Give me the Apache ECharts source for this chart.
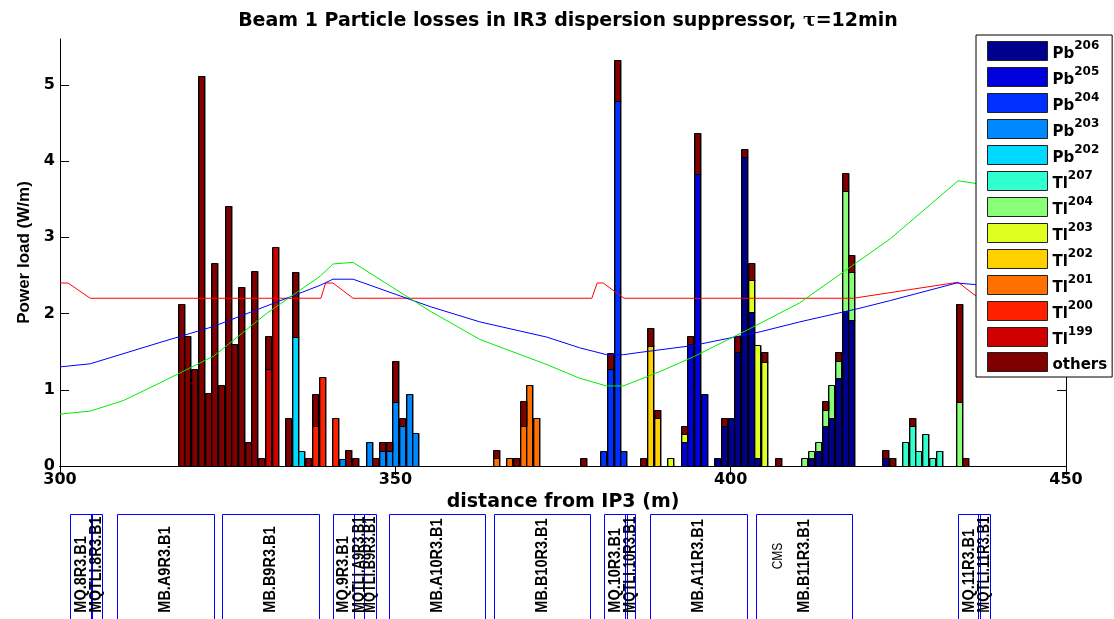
<!DOCTYPE html>
<html>
<head>
<meta charset="utf-8">
<title>Beam 1 Particle losses in IR3 dispersion suppressor</title>
<script src="https://cdn.jsdelivr.net/npm/echarts@6/dist/echarts.min.js"></script>
<style>
  html, body { margin: 0; padding: 0; background: #fff; }
  #chart { width: 1114px; height: 619px; }
</style>
</head>
<body>
<div id="chart"></div>
<script>
// ---- power load per 1 m bin, [bin centre (m from IP3), W/m], one list per species ----
const Pb206 = [[398,0.10],[399,0.52],[400,0.63],[401,1.49],[402,4.05],[403,2.02],[404,0.10],[412,0.10],[413,0.20],[414,0.52],[415,0.63],[416,1.16],[417,2.03],[418,1.91],[423,0.10]];
const Pb205 = [[393,0.31],[394,1.60],[395,3.83],[396,0.95]];
const Pb204 = [[381,0.20],[382,1.27],[383,4.79],[384,0.20]];
const Pb203 = [[342,0.09],[346,0.31],[348,0.20],[349,0.20],[350,0.84],[351,0.52],[352,0.95],[353,0.43]];
const Pb202 = [[335,1.69],[336,0.20]];
const Tl207 = [[426,0.31],[427,0.52],[428,0.20],[429,0.42],[430,0.10],[431,0.20]];
const Tl204 = [[411,0.10],[412,0.10],[413,0.11],[414,0.21],[415,0.43],[416,0.22],[417,1.58],[418,0.64],[434,0.84]];
const Tl203 = [[391,0.10],[393,0.11],[403,0.42],[404,1.49],[405,1.37]];
const Tl202 = [[388,1.58],[389,0.63]];
const Tl201 = [[365,0.10],[367,0.10],[369,0.52],[370,1.06],[371,0.63]];
const Tl200 = [[338,0.52],[339,1.17],[341,0.63]];
const Tl199 = [[331,1.27],[332,2.87]];
const others = [[318,2.13],[319,1.71],[320,1.27],[321,5.12],[322,0.96],[323,2.66],[324,1.06],[325,3.41],[326,1.60],[327,2.35],[328,0.31],[329,2.56],[330,0.10],[331,0.44],[334,0.63],[335,0.86],[337,0.10],[338,0.43],[343,0.21],[344,0.10],[347,0.10],[348,0.11],[349,0.11],[350,0.54],[351,0.11],[365,0.11],[368,0.10],[369,0.33],[378,0.10],[382,0.21],[383,0.54],[387,0.10],[388,0.23],[389,0.11],[393,0.10],[394,0.10],[395,0.54],[399,0.11],[401,0.21],[402,0.11],[403,0.22],[405,0.12],[407,0.10],[414,0.12],[416,0.11],[417,0.23],[418,0.22],[423,0.11],[424,0.10],[427,0.11],[434,1.29],[435,0.10]];

// stacking order, bottom to top (also the legend order)
const speciesKeys    = ['Pb206','Pb205','Pb204','Pb203','Pb202','Tl207','Tl204','Tl203','Tl202','Tl201','Tl200','Tl199','others'];
const speciesData    = [Pb206, Pb205, Pb204, Pb203, Pb202, Tl207, Tl204, Tl203, Tl202, Tl201, Tl200, Tl199, others];
const elementSymbols = ['Pb','Pb','Pb','Pb','Pb','Tl','Tl','Tl','Tl','Tl','Tl','Tl','others'];
const massNumbers    = ['206','205','204','203','202','207','204','203','202','201','200','199',''];
const speciesColors  = ['#00008f','#0000df','#0030ff','#0088ff','#00d8ff','#30ffcf','#88ff77','#dfff20','#ffcf00','#ff7000','#ff2000','#cf0000','#800000'];

// ---- overlay curves, [s (m), value on the W/m scale] ----
const redCurve   = [[300,2.40],[301.2,2.40],[304.5,2.20],[338.9,2.20],[339.6,2.40],[340.7,2.40],[343.7,2.20],[379.3,2.20],[380.1,2.40],[381.0,2.40],[384.1,2.20],[418.3,2.20],[433.9,2.41],[437.0,2.20],[450,2.20]];
const blueCurve  = [[300,1.30],[304.5,1.34],[314.9,1.62],[322.9,1.83],[338.8,2.37],[340.7,2.45],[343.7,2.45],[355.2,2.09],[362.6,1.89],[372.6,1.69],[377.5,1.55],[381.5,1.46],[384.0,1.46],[386.5,1.49],[394.4,1.58],[404.4,1.76],[410.3,1.89],[419.3,2.07],[423.8,2.17],[433.7,2.40],[436.4,2.38],[450,2.05]];
const greenCurve = [[300,0.68],[304.5,0.72],[309.5,0.86],[314.9,1.09],[322.9,1.44],[330.8,2.00],[338.8,2.49],[340.7,2.65],[343.7,2.67],[355.2,2.03],[362.6,1.66],[372.6,1.33],[377.5,1.15],[381.5,1.05],[384.0,1.05],[389.5,1.24],[394.4,1.43],[402.4,1.78],[410.3,2.14],[423.8,2.98],[433.9,3.74],[437.0,3.70],[450,2.90]];

// ---- magnet layout along s (m) ----
const magnetNames = ['MQ.8R3.B1','MQTLI.8R3.B1','MB.A9R3.B1','MB.B9R3.B1','MQ.9R3.B1','MQTLI.A9R3.B1','MQTLI.B9R3.B1','MB.A10R3.B1','MB.B10R3.B1','MQ.10R3.B1','MQTLI.10R3.B1','MB.A11R3.B1','MB.B11R3.B1','MQ.11R3.B1','MQTLI.11R3.B1'];
const magnetStart = [301.55,304.68,308.56,324.14,340.67,343.82,345.32,348.99,364.69,381.11,384.24,387.97,403.77,433.93,436.87];
const magnetEnd   = [304.79,306.25,322.89,338.59,343.82,345.32,347.16,363.38,379.08,384.49,385.73,402.39,418.04,437.17,438.66];
const noteLabels  = ['CMS'];
const notePos     = [407.05];

// ---- axis ticks ----
const xTicks = [300, 350, 400, 450];
const yTicks = [0, 1, 2, 3, 4, 5];

const WIDE = 'DejaVu Sans';
const ARIAL = 'Liberation Sans, Arial, sans-serif';
const BIN_FILL = 0.9;        // fraction of the 1 m bin covered by a bar
const MAGNET_FONT = 14.5;
const MAGNET_LABEL_MAX = 96; // longest a rotated name may run inside its strip (px)

// stack the species bin by bin: each segment is [centre, bottom, top]
const runningTop = new Map();
const stackedSegments = speciesData.map(list => list.map(([x, v]) => {
  const lo = runningTop.get(x) || 0;
  runningTop.set(x, lo + v);
  return [x, lo, lo + v];
}));

// squeeze long element names so they stay inside the strip
const measureCtx = document.createElement('canvas').getContext('2d');
measureCtx.font = 'bold ' + MAGNET_FONT + 'px ' + ARIAL;
const magnetSqueeze = magnetNames.map(n => Math.min(1, MAGNET_LABEL_MAX / measureCtx.measureText(n).width));

const barSeries = stackedSegments.map((segs, i) => ({
  name: speciesKeys[i],
  type: 'custom',
  xAxisIndex: 0,
  yAxisIndex: 0,
  silent: true,
  itemStyle: { color: speciesColors[i] },
  encode: { x: 0, y: [1, 2] },
  data: segs,
  renderItem: (params, api) => {
    const x = api.value(0);
    const top = api.coord([x, api.value(2)]);
    const bottom = api.coord([x, api.value(1)]);
    const w = Math.round(api.size([BIN_FILL, 0])[0]);
    const left = Math.round(top[0] - w / 2) + 0.5;
    const y0 = Math.round(top[1]) + 0.5;
    const y1 = Math.round(bottom[1]) + 0.5;
    return {
      type: 'rect',
      shape: { x: left, y: y0, width: w, height: y1 - y0 },
      style: { fill: speciesColors[i], stroke: '#000', lineWidth: 1,
               shadowColor: 'rgba(0,0,0,0.35)', shadowOffsetX: 1, shadowOffsetY: 0, shadowBlur: 0 }
    };
  }
}));

const curveSeries = [[redCurve, '#ff0000'], [blueCurve, '#0000ff'], [greenCurve, '#00ee00']].map(([pts, col]) => ({
  type: 'line',
  xAxisIndex: 0,
  yAxisIndex: 0,
  data: pts,
  symbol: 'none',
  silent: true,
  z: 3,
  lineStyle: { color: col, width: 1 },
  emphasis: { disabled: true }
}));

const LABEL_FOOT = 0.06; // rotated names start this far up the element strip

const magnetSeries = {
  type: 'custom',
  xAxisIndex: 1,
  yAxisIndex: 2,
  silent: true,
  clip: false,
  data: magnetNames.map((n, i) => [magnetStart[i], magnetEnd[i], i]),
  renderItem: (params, api) => {
    const i = api.value(2);
    const a = api.coord([api.value(0), 1]);
    const b = api.coord([api.value(1), -0.3]);
    const foot = api.coord([api.value(0), LABEL_FOOT]);
    const x0 = Math.round(a[0]) + 0.5, x1 = Math.round(b[0]) + 0.5, y0 = Math.round(a[1]) + 0.5;
    return {
      type: 'group',
      children: [
        { type: 'rect', shape: { x: x0, y: y0, width: x1 - x0, height: b[1] - y0 },
          style: { fill: 'none', stroke: '#0000ff', lineWidth: 1 } },
        { type: 'text', x: (a[0] + b[0]) / 2, y: foot[1], rotation: Math.PI / 2,
          scaleX: magnetSqueeze[i], scaleY: 1.18,
          style: { text: magnetNames[i], fontFamily: ARIAL, fontWeight: 'bold', fontSize: MAGNET_FONT,
                   fill: '#000', align: 'left', verticalAlign: 'middle' } }
      ]
    };
  }
};

const noteSeries = {
  type: 'custom',
  xAxisIndex: 1,
  yAxisIndex: 2,
  silent: true,
  clip: false,
  data: notePos.map((p, i) => [p, i]),
  renderItem: (params, api) => {
    const p = api.coord([api.value(0), 0.6]);
    return { type: 'text', x: p[0], y: p[1], rotation: Math.PI / 2, scaleY: 1.15,
             style: { text: noteLabels[api.value(1)], fontFamily: ARIAL, fontSize: 12,
                      fill: '#000', align: 'center', verticalAlign: 'middle' } };
  }
};

const axisBlack = { lineStyle: { color: '#000', width: 1 } };

const option = {
  animation: false,
  backgroundColor: '#fff',
  title: {
    text: '{b|Beam 1 Particle losses in IR3 dispersion suppressor, }{t|τ}{b|=12min}',
    left: 563,
    textAlign: 'center',
    top: 7,
    textStyle: {
      rich: {
        b: { fontFamily: WIDE, fontWeight: 'bold', fontSize: 19, color: '#000' },
        t: { fontFamily: 'DejaVu Serif', fontSize: 19, color: '#000' }
      }
    }
  },
  legend: {
    data: speciesKeys,
    orient: 'vertical',
    left: 976,
    top: 35,
    padding: [5, 5, 4, 11],
    itemWidth: 60,
    itemHeight: 19,
    itemGap: 4,
    icon: 'rect',
    selectedMode: false,
    backgroundColor: '#fff',
    borderColor: '#000',
    borderWidth: 1,
    itemStyle: { borderColor: '#222', borderWidth: 1 },
    formatter: name => {
      const i = speciesKeys.indexOf(name);
      return massNumbers[i] ? '{el|' + elementSymbols[i] + '}{mass|' + massNumbers[i] + '}' : '{el|' + elementSymbols[i] + '}';
    },
    textStyle: {
      rich: {
        el:   { fontFamily: WIDE, fontWeight: 'bold', fontSize: 15, lineHeight: 22, verticalAlign: 'bottom', color: '#000' },
        mass: { fontFamily: WIDE, fontWeight: 'bold', fontSize: 12, lineHeight: 22, verticalAlign: 'top', color: '#000' }
      }
    }
  },
  grid: [
    { left: 60, right: 48, top: 39, bottom: 153 },
    { left: 60, right: 48, top: 514, bottom: 0 }
  ],
  xAxis: [
    {
      type: 'value', gridIndex: 0, position: 'bottom', min: 300, max: 450, interval: 50,
      axisLine: axisBlack,
      axisTick: { inside: true, length: 9, lineStyle: { color: '#000' } },
      splitLine: { show: false },
      axisLabel: { color: '#000', fontFamily: WIDE, fontWeight: 'bold', fontSize: 16, margin: 6,
                   customValues: xTicks },
      name: 'distance from IP3 (m)',
      nameLocation: 'middle',
      nameGap: 17,
      nameTextStyle: { color: '#000', fontFamily: WIDE, fontWeight: 'bold', fontSize: 19 }
    },
    {
      type: 'value', gridIndex: 1, min: 300, max: 450, show: false
    },
    {
      type: 'value', gridIndex: 0, position: 'top', min: 300, max: 450, interval: 50,
      axisLine: axisBlack,
      axisTick: { inside: true, length: 9, lineStyle: { color: '#000' } },
      axisLabel: { show: false },
      splitLine: { show: false }
    }
  ],
  yAxis: [
    {
      type: 'value', gridIndex: 0, position: 'left', min: 0, max: 5.6, interval: 1,
      axisLine: { show: true, lineStyle: { color: '#000', width: 1 } },
      axisTick: { show: true, inside: true, length: 9, lineStyle: { color: '#000' }, customValues: yTicks },
      splitLine: { show: false },
      axisLabel: { color: '#000', fontFamily: WIDE, fontWeight: 'bold', fontSize: 16, margin: 5,
                   customValues: yTicks },
      name: 'Power load (W/m)',
      nameLocation: 'middle',
      nameGap: 27,
      nameTextStyle: { color: '#000', fontFamily: ARIAL, fontWeight: 'bold', fontSize: 17 }
    },
    {
      type: 'value', gridIndex: 0, position: 'right', min: 0, max: 5.6, interval: 1,
      axisLine: { show: true, lineStyle: { color: '#000', width: 1 } },
      axisTick: { show: true, inside: true, length: 9, lineStyle: { color: '#000' }, customValues: yTicks },
      axisLabel: { show: false },
      splitLine: { show: false }
    },
    {
      type: 'value', gridIndex: 1, min: 0, max: 1, show: false
    }
  ],
  series: [...barSeries, ...curveSeries, magnetSeries, noteSeries]
};

const chart = echarts.init(document.getElementById('chart'), null, { renderer: 'canvas' });
chart.setOption(option);
</script>
</body>
</html>
